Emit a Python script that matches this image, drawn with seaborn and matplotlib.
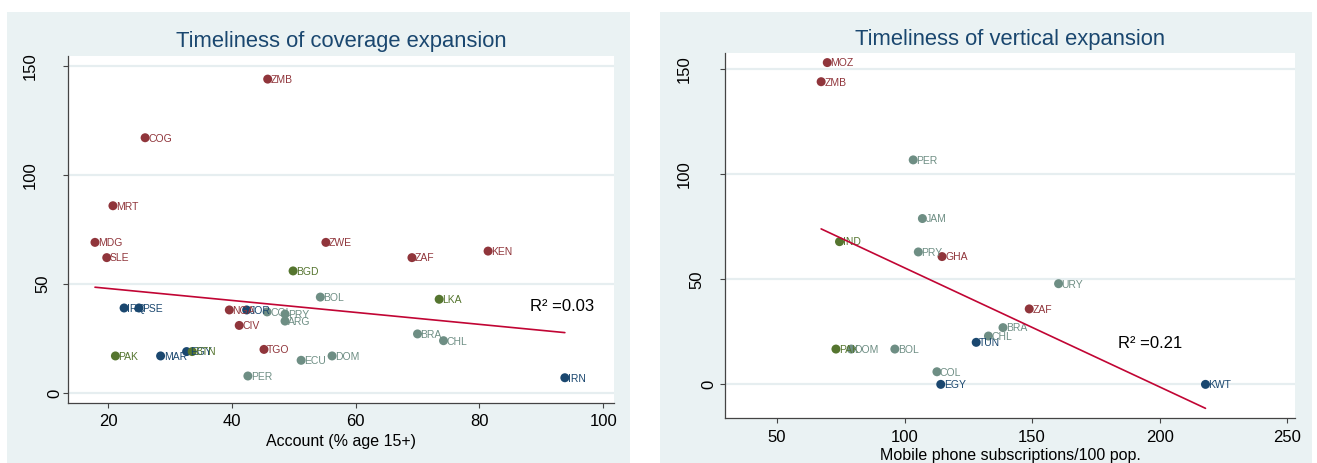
import matplotlib
matplotlib.use("Agg")
import matplotlib.pyplot as plt
import matplotlib.transforms as mtransforms
from matplotlib.patches import Rectangle
import numpy as np
import pandas as pd
import seaborn as sns

sns.set_style("white")
plt.rcParams['font.family'] = ['Liberation Sans', 'DejaVu Sans']

# ---------------- data: left panel (coverage expansion) ----------------
left_codes = ["ZMB", "COG", "MRT", "MDG", "SLE", "ZWE", "ZAF", "KEN", "NGA", "CIV", "TGO",
              "IRQ", "PSE", "JOR", "MAR", "EGY", "IRN",
              "BGD", "LKA", "PAK", "BTN",
              "BOL", "COL", "PRY", "ARG", "BRA", "CHL", "PER", "ECU", "DOM"]
left_region = ["SSA"] * 11 + ["MENA"] * 6 + ["SAS"] * 4 + ["LAC"] * 9
left_account = [45.8, 26.0, 20.8, 17.9, 19.8, 55.2, 69.1, 81.4, 39.6, 41.2, 45.2,
                22.6, 25.0, 42.4, 28.5, 32.7, 93.8,
                49.9, 73.5, 21.2, 33.6,
                54.3, 45.7, 48.6, 48.6, 70.0, 74.2, 42.6, 51.2, 56.2]
left_timeliness = [144.0, 117.1, 85.9, 69.1, 62.1, 69.1, 62.1, 65.1, 38.1, 31.0, 20.0,
                   39.0, 39.0, 38.1, 17.0, 19.0, 7.0,
                   56.0, 43.0, 17.0, 19.0,
                   44.0, 37.2, 36.2, 33.0, 27.1, 24.0, 7.8, 15.0, 17.0]
# fitted line (intercept, slope)
left_fit = [53.44, -0.2744]

# ---------------- data: right panel (vertical expansion) ----------------
right_codes = ["MOZ", "ZMB", "GHA", "ZAF",
               "TUN", "EGY", "KWT",
               "IND", "PAK",
               "PER", "JAM", "PRY", "URY", "BRA", "CHL", "DOM", "BOL", "COL"]
right_region = ["SSA"] * 4 + ["MENA"] * 3 + ["SAS"] * 2 + ["LAC"] * 9
right_mobile = [69.7, 67.3, 114.7, 148.9,
                128.1, 114.2, 218.0,
                74.5, 73.1,
                103.4, 107.0, 105.4, 160.4, 138.6, 132.9, 79.1, 96.2, 112.7]
right_timeliness = [153.1, 144.0, 60.8, 35.9,
                    20.0, 0.0, 0.0,
                    67.9, 16.8,
                    106.8, 78.9, 63.0, 47.9, 27.0, 23.0, 16.8, 16.8, 6.0]
right_fit = [112.1, -0.5665]

x_ticks_left = [20, 40, 60, 80, 100]
x_ticks_right = [50, 100, 150, 200, 250]
y_ticks = [0, 50, 100, 150]
titles = ["Timeliness of coverage expansion", "Timeliness of vertical expansion"]
xlabels = ["Account (% age 15+)", "Mobile phone subscriptions/100 pop."]
r2_texts = ["R\u00b2 =0.03", "R\u00b2 =0.21"]

palette = {"SSA": "#90353B", "MENA": "#1A476F", "SAS": "#55752F", "LAC": "#6E8E84"}
navy = "#1A476F"
fit_color = "#C10534"
panel_bg = "#EAF2F3"
grid_color = "#E6EEF0"

W, H = 1317, 463
fig = plt.figure(figsize=(W / 100, H / 100), dpi=100)
fig.patch.set_facecolor("white")

# panel backgrounds (pixel boxes -> figure fraction)
for (x0, x1) in [(7, 630), (660, 1312)]:
    fig.patches.append(Rectangle((x0 / W, 0), (x1 - x0) / W, (H - 12) / H,
                                 transform=fig.transFigure, facecolor=panel_bg,
                                 edgecolor="none", zorder=-10))

ax_l = fig.add_axes([68 / W, (H - 403) / H, (614 - 68) / W, (403 - 56) / H])
ax_r = fig.add_axes([725 / W, (H - 418) / H, (1295 - 725) / W, (418 - 52.7) / H])

df_l = pd.DataFrame({"code": left_codes, "region": left_region,
                     "x": left_account, "y": left_timeliness})
df_r = pd.DataFrame({"code": right_codes, "region": right_region,
                     "x": right_mobile, "y": right_timeliness})

setups = [
    (ax_l, df_l, left_fit, x_ticks_left, (13.54, 101.74), (-4.59, 154.6), 13, 4.6, 6.5, 3.0, (0.905, 0.2795)),
    (ax_r, df_r, right_fit, x_ticks_right, (29.6, 253.1), (-16.0, 157.8), 16, 5.2, 5.6, 1.8, (0.746, 0.2026)),
]

for i, (ax, df, fit, xt, xl, yl, ypad_px, xpad, tpad, lpad, r2pos) in enumerate(setups):
    ax.set_facecolor("white")
    for yv in y_ticks:
        ax.axhline(yv, color=grid_color, lw=1.6, zorder=0.5)
    sns.scatterplot(data=df, x="x", y="y", hue="region", palette=palette,
                    s=42, edgecolor="none", linewidth=0, legend=False, ax=ax, zorder=3)
    for _, row in df.iterrows():
        ax.annotate(row["code"], (row["x"], row["y"]), xytext=(2.2, -0.6),
                    textcoords="offset points", ha="left", va="center",
                    fontsize=7.5, color=palette[row["region"]], zorder=4)
    fx = np.array([df["x"].min(), df["x"].max()])
    fit_df = pd.DataFrame({"x": fx, "y": fit[0] + fit[1] * fx})
    sns.lineplot(data=fit_df, x="x", y="y", color=fit_color, lw=1.2, ax=ax, zorder=5)
    ax.set_xlim(*xl)
    ax.set_ylim(*yl)
    ax.set_xticks(xt)
    ax.set_yticks(y_ticks)
    ax.set_xticklabels([str(v) for v in xt])
    ax.set_yticklabels([str(v) for v in y_ticks])
    for s in ["top", "right"]:
        ax.spines[s].set_visible(False)
    for s in ["left", "bottom"]:
        ax.spines[s].set_color("#444444")
        ax.spines[s].set_linewidth(0.9)
    ax.tick_params(axis="x", direction="out", length=3.6, width=0.8, color="#444444",
                   labelsize=12, pad=xpad, labelcolor="black", bottom=True)
    ax.tick_params(axis="y", direction="out", length=3.6, width=0.8, color="#444444",
                   labelsize=12, pad=(ypad_px - 5) * 0.72, labelcolor="black",
                   labelrotation=90, left=True)
    for lbl in ax.get_yticklabels():
        n = len(lbl.get_text())
        lbl.set_ha("center")
        lbl.set_va("center")
        off = mtransforms.ScaledTranslation(-12.5 * (n - 1) / 100, 0, fig.dpi_scale_trans)
        lbl.set_transform(lbl.get_transform() + off)
    ax.grid(False)
    ax.set_xlabel(xlabels[i], fontsize=11.5, labelpad=lpad, color="black")
    ax.set_ylabel("")
    ax.set_title(titles[i], fontsize=15.8, color=navy, pad=tpad)
    ax.text(r2pos[0], r2pos[1], r2_texts[i], transform=ax.transAxes,
            ha="center", va="center", fontsize=12, color="black")

fig.savefig("out.png", dpi=100, facecolor=fig.get_facecolor())
